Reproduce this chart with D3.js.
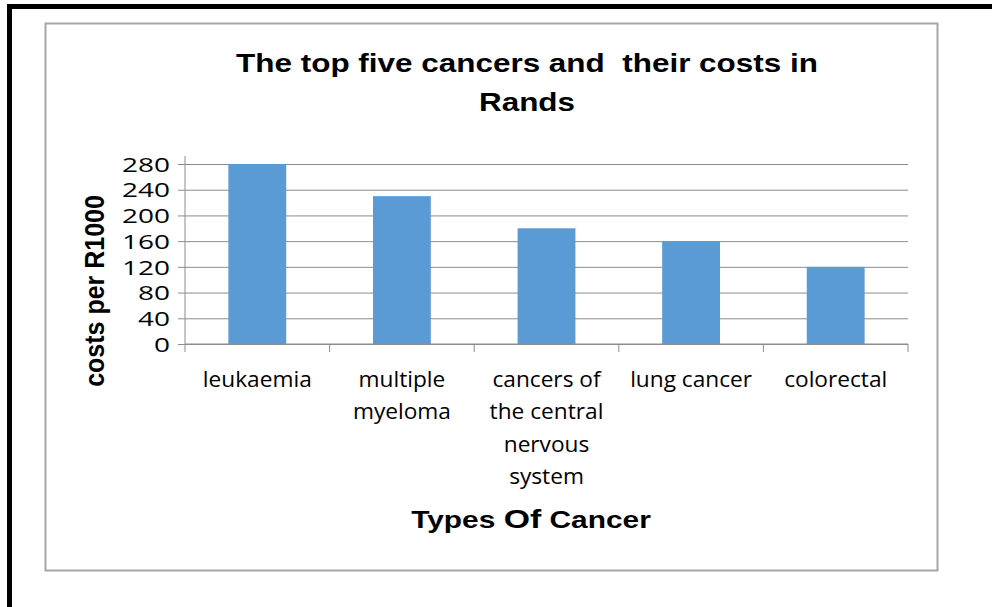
<!DOCTYPE html>
<html>
<head>
<meta charset="utf-8">
<script src="https://cdn.jsdelivr.net/npm/d3@7"></script>
<style>
  body { margin: 0; background: #fff; }
  svg { display: block; }
</style>
</head>
<body>
<div id="canvas"></div>
<script>
  const categories = ['leukaemia', 'multiple myeloma', 'cancers of the central nervous system', 'lung cancer', 'colorectal'];
  const costs = [280, 230, 180, 160, 120];
  const yTicks = [0, 40, 80, 120, 160, 200, 240, 280];

  const width = 992;
  const height = 607;
  const plot = { left: 185, right: 908, top: 164, bottom: 344 };

  const svg = d3.select('#canvas')
    .append('svg')
    .attr('width', width)
    .attr('height', height);

  // black page frame (top and left only)
  svg.append('rect').attr('x', 7).attr('y', 4).attr('width', width - 7).attr('height', 5).attr('fill', '#000');
  svg.append('rect').attr('x', 7).attr('y', 4).attr('width', 5).attr('height', height - 4).attr('fill', '#000');

  // chart area border
  svg.append('rect')
    .attr('x', 45.5).attr('y', 23.5)
    .attr('width', 892).attr('height', 547)
    .attr('fill', 'none')
    .attr('stroke', '#a6a6a6')
    .attr('stroke-width', 2);

  const x = d3.scaleBand()
    .domain(categories)
    .range([plot.left, plot.right])
    .paddingInner(0.6)
    .paddingOuter(0.3);

  const y = d3.scaleLinear()
    .domain([0, 280])
    .range([plot.bottom, plot.top]);

  // gridlines + y axis
  const yAxis = svg.append('g')
    .attr('transform', `translate(${plot.left},0)`)
    .call(d3.axisLeft(y).tickValues(yTicks).tickSizeOuter(0).tickSizeInner(-(plot.right - plot.left)).tickPadding(14));
  yAxis.select('.domain').remove();
  yAxis.selectAll('.tick line')
    .attr('x1', -7)
    .attr('stroke', '#8c8c8c');
  // the reference text is stretched sideways, so scale the labels
  yAxis.selectAll('.tick text')
    .attr('x', null)
    .attr('dy', '0.36em')
    .attr('transform', 'translate(-15,0) scale(1.4,1)')
    .style('font-family', '"Open Sans", sans-serif')
    .style('font-size', '20px')
    .attr('fill', '#000');

  svg.append('line')
    .attr('x1', plot.left).attr('x2', plot.left)
    .attr('y1', plot.top - 8).attr('y2', plot.bottom)
    .attr('stroke', '#8c8c8c');

  // bars
  svg.selectAll('rect.bar')
    .data(costs)
    .enter()
    .append('rect')
    .attr('class', 'bar')
    .attr('x', (d, i) => x(categories[i]))
    .attr('y', (d) => y(d))
    .attr('width', x.bandwidth())
    .attr('height', (d) => y(0) - y(d))
    .attr('fill', '#5b9bd5');

  // x axis line + category ticks
  svg.append('line')
    .attr('x1', plot.left).attr('x2', plot.right)
    .attr('y1', plot.bottom).attr('y2', plot.bottom)
    .attr('stroke', '#8c8c8c');
  const step = x.step();
  svg.selectAll('line.cattick')
    .data(d3.range(categories.length + 1))
    .enter()
    .append('line')
    .attr('class', 'cattick')
    .attr('x1', (i) => plot.left + i * step)
    .attr('x2', (i) => plot.left + i * step)
    .attr('y1', plot.bottom)
    .attr('y2', plot.bottom + 8)
    .attr('stroke', '#8c8c8c');

  // category labels, wrapped
  const catScale = 1.08;
  const labels = svg.selectAll('text.cat')
    .data(categories)
    .enter()
    .append('text')
    .attr('class', 'cat')
    .attr('text-anchor', 'middle')
    .attr('transform', (d) => `translate(${x(d) + x.bandwidth() / 2},387) scale(${catScale},1)`)
    .style('font-family', '"Open Sans", sans-serif')
    .style('font-size', '21px')
    .attr('fill', '#000');

  labels.each(function (d) {
    const t = d3.select(this);
    const words = d.split(' ');
    let lines = [];
    let line = [];
    const probe = t.append('tspan');
    words.forEach((w) => {
      const test = line.concat([w]).join(' ');
      probe.text(test);
      if (probe.node().getComputedTextLength() * catScale > 132 && line.length) {
        lines.push(line.join(' '));
        line = [w];
      } else {
        line.push(w);
      }
    });
    lines.push(line.join(' '));
    probe.remove();
    lines.forEach((l, i) => {
      t.append('tspan')
        .attr('x', 0)
        .attr('y', i * 32.3)
        .text(l);
    });
  });

  // titles
  const title = svg.append('text')
    .attr('text-anchor', 'middle')
    .attr('transform', 'translate(527,0) scale(1.21,1)')
    .style('font-family', 'Arial, "Liberation Sans", sans-serif')
    .style('font-weight', 'bold')
    .style('font-size', '26px')
    .attr('fill', '#000');
  title.append('tspan').attr('x', 0).attr('y', 72).style('white-space', 'pre').text('The top five cancers and  their costs in');
  title.append('tspan').attr('x', 0).attr('y', 111).text('Rands');

  const xTitle = svg.append('text')
    .attr('text-anchor', 'middle')
    .attr('transform', 'translate(531,528) scale(1.3,1)')
    .style('font-family', 'Arial, "Liberation Sans", sans-serif')
    .style('font-weight', 'bold')
    .style('font-size', '23px')
    .attr('fill', '#000');
  xTitle.append('tspan').text('Types ');
  xTitle.append('tspan').style('font-size', '26px').text('Of');
  xTitle.append('tspan').text(' Cancer');

  svg.append('text')
    .attr('transform', 'translate(104,291) rotate(-90) scale(1,1.1)')
    .attr('text-anchor', 'middle')
    .style('font-family', 'Arial, "Liberation Sans", sans-serif')
    .style('font-weight', 'bold')
    .style('font-size', '25px')
    .attr('fill', '#000')
    .text('costs per R1000');
</script>
</body>
</html>
